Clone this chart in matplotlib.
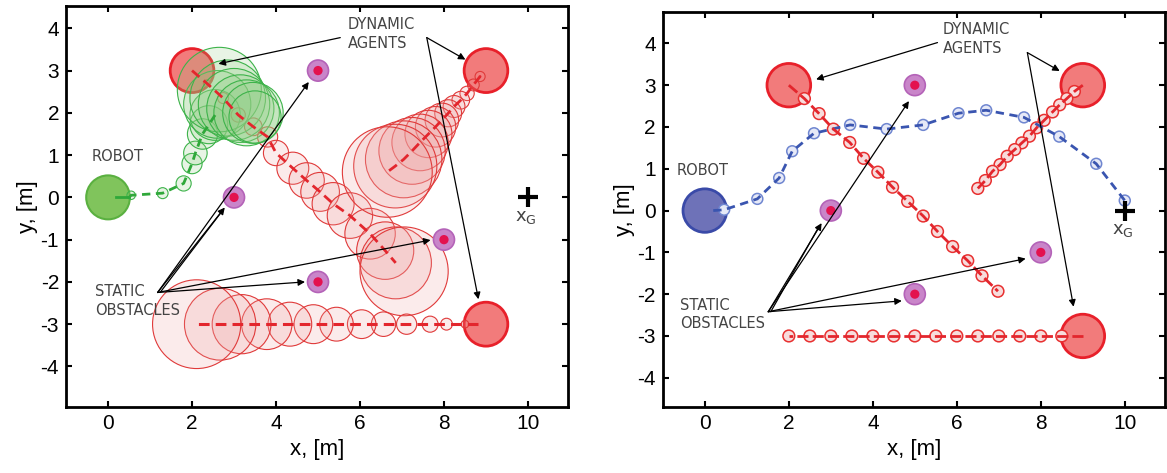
import numpy as np
import matplotlib.pyplot as plt
from matplotlib.patches import Circle

plt.rcParams['font.family'] = ['Liberation Sans', 'DejaVu Sans']
plt.rcParams['mathtext.default'] = 'regular'
plt.rcParams['axes.unicode_minus'] = False

# ---- common scene ----
static_x = [5, 3, 8, 5]
static_y = [3, 0, -1, -2]
agent_x = [2, 9, 9]
agent_y = [3, 3, -3]
goal = (10, 0)

# ---- left panel: growing uncertainty ----
green_x = [0.55, 1.3, 1.8, 2.0, 2.08, 2.25, 2.4, 2.55, 2.6, 2.65, 2.85, 3.0, 3.15, 3.3, 3.45, 3.5]
green_y = [0.05, 0.1, 0.33, 0.8, 1.05, 1.5, 1.72, 1.95, 2.2, 2.55, 2.35, 2.2, 2.1, 2.0, 2.0, 1.9]
green_r = [0.10, 0.13, 0.18, 0.24, 0.28, 0.36, 0.45, 0.6, 0.8, 1.0, 0.9, 0.85, 0.8, 0.78, 0.72, 0.62]

l_red1_x = [2.35, 2.74, 3.1, 3.46, 3.8, 4.0, 4.4, 4.73, 5.05, 5.36, 5.76, 6.24, 6.6, 6.85, 7.05]
l_red1_y = [2.7, 2.35, 1.95, 1.67, 1.43, 1.05, 0.69, 0.4, 0.13, -0.15, -0.43, -0.86, -1.26, -1.55, -1.75]
l_red1_r = [0.08, 0.13, 0.17, 0.21, 0.24, 0.3, 0.38, 0.42, 0.46, 0.5, 0.54, 0.6, 0.68, 0.85, 1.05]

l_red2_x = [8.86, 8.7, 8.55, 8.4, 8.24, 8.1, 7.95, 7.8, 7.63, 7.43, 7.24, 7.04, 6.84, 6.65]
l_red2_y = [2.86, 2.66, 2.46, 2.3, 2.15, 1.99, 1.83, 1.67, 1.5, 1.3, 1.1, 0.9, 0.74, 0.6]
l_red2_r = [0.12, 0.14, 0.17, 0.21, 0.26, 0.32, 0.4, 0.48, 0.56, 0.67, 0.79, 0.91, 0.99, 1.07]

l_red3_x = [8.5, 8.06, 7.67, 7.11, 6.56, 6.04, 5.44, 4.89, 4.33, 3.78, 3.18, 2.67, 2.11]
l_red3_y = [-3.0] * 13
l_red3_r = [0.09, 0.14, 0.19, 0.24, 0.29, 0.34, 0.4, 0.46, 0.52, 0.6, 0.7, 0.85, 1.05]

# ---- right panel: constant small uncertainty ----
blue_x = [0.46, 1.25, 1.77, 2.08, 2.6, 3.46, 4.33, 5.2, 6.04, 6.7, 7.6, 8.44, 9.32, 10.0]
blue_y = [0.02, 0.28, 0.78, 1.42, 1.85, 2.05, 1.95, 2.05, 2.33, 2.4, 2.23, 1.77, 1.12, 0.24]

r_red1_x = [2.37, 2.72, 3.06, 3.45, 3.78, 4.12, 4.47, 4.83, 5.2, 5.54, 5.9, 6.26, 6.6, 6.98]
r_red1_y = [2.68, 2.32, 1.95, 1.63, 1.25, 0.92, 0.56, 0.22, -0.13, -0.5, -0.86, -1.2, -1.56, -1.93]
r_red2_x = [8.8, 8.62, 8.45, 8.28, 8.08, 7.9, 7.73, 7.55, 7.38, 7.2, 7.03, 6.85, 6.68, 6.5]
r_red2_y = [2.85, 2.68, 2.53, 2.36, 2.16, 1.98, 1.78, 1.62, 1.46, 1.3, 1.1, 0.94, 0.72, 0.53]
r_red3_x = [8.5, 8.0, 7.5, 7.0, 6.5, 6.0, 5.5, 5.0, 4.5, 4.0, 3.5, 3.0, 2.5, 2.0]
r_red3_y = [-3.0] * 14

agent_face = '#f27b7b'
agent_edge = '#e8202a'
text_col = '#444444'


def draw_scene(ax):
    for x, y in zip(agent_x, agent_y):
        ax.add_patch(Circle((x, y), 0.52, fc=agent_face, ec=agent_edge, lw=2, zorder=2))
    for x, y in zip(static_x, static_y):
        ax.add_patch(Circle((x, y), 0.25, fc='#c985c9', ec='#b463b8', lw=1.2, zorder=6))
        ax.add_patch(Circle((x, y), 0.11, fc='#e3124f', ec='none', zorder=7))
    ax.plot(*goal, marker='+', ms=15, mew=3, color='black', zorder=8)
    ax.text(goal[0] - 0.05, goal[1] - 0.47, 'x$_{G}$', fontsize=13, color=text_col,
            ha='center', va='center', family='DejaVu Sans')


def arrow(ax, x0, y0, x1, y1, head=True):
    ax.annotate('', xy=(x1, y1), xytext=(x0, y0),
                arrowprops=dict(arrowstyle='-|>' if head else '-', lw=0.9, color='black',
                                mutation_scale=10, shrinkA=0, shrinkB=0), zorder=9)


def style(ax, ylim):
    ax.set_xlim(-1, 10.95)
    ax.set_ylim(*ylim)
    ax.set_xticks([0, 2, 4, 6, 8, 10])
    ax.set_yticks([-4, -3, -2, -1, 0, 1, 2, 3, 4])
    ax.tick_params(direction='in', length=4, width=1.5, top=True, right=True,
                   labelsize=15, pad=5)
    for s in ax.spines.values():
        s.set_linewidth(2)
    ax.set_xlabel('x, [m]', fontsize=16, labelpad=4)
    ax.set_ylabel('y, [m]', fontsize=16, labelpad=2)


fig = plt.figure(figsize=(11.67, 4.73), dpi=100)
ax1 = fig.add_axes([0.0566, 0.1395, 0.430, 0.848])
ax2 = fig.add_axes([0.568, 0.1395, 0.430, 0.835])

# ---------- left ----------
draw_scene(ax1)
ax1.add_patch(Circle((0, 0), 0.52, fc='#80c45c', ec='#5ab040', lw=1.5, zorder=2))
ax1.plot([0.2, 0.5], [0, 0], color='#2fa83a', lw=2, zorder=5)
for xs, ys, rs in [(l_red1_x, l_red1_y, l_red1_r), (l_red2_x, l_red2_y, l_red2_r),
                   (l_red3_x, l_red3_y, l_red3_r)]:
    for x, y, r in zip(xs, ys, rs):
        ax1.add_patch(Circle((x, y), r, fc=(0.93, 0.62, 0.62, 0.2), ec='#e03a3a', lw=0.8, zorder=3))
for x, y, r in zip(green_x, green_y, green_r):
    ax1.add_patch(Circle((x, y), r, fc=(0.55, 0.8, 0.5, 0.2), ec='#3db34a', lw=0.8, zorder=4))
ax1.plot([0.5] + green_x[:8], [0] + green_y[:8], color='#2fa83a', lw=2, dashes=(3, 2), zorder=5)
ax1.plot([2.0] + l_red1_x[:-1], [3.0] + l_red1_y[:-1], color='#e3262d', lw=2, dashes=(3.5, 2), zorder=5)
ax1.plot([8.85] + l_red2_x, [2.85] + l_red2_y, color='#e3262d', lw=2, dashes=(3.5, 2), zorder=5)
ax1.plot([8.8, 2.1], [-3, -3], color='#e3262d', lw=2.2, dashes=(3.5, 2), zorder=5)

ax1.text(-0.4, 0.96, 'ROBOT', fontsize=10.5, color=text_col, va='center', family='DejaVu Sans')
ax1.text(5.7, 3.87, 'DYNAMIC\nAGENTS', fontsize=10.5, color=text_col, va='center',
         family='DejaVu Sans', linespacing=1.3)
ax1.text(-0.3, -2.45, 'STATIC\nOBSTACLES', fontsize=10.5, color=text_col, va='center',
         family='DejaVu Sans', linespacing=1.3)
arrow(ax1, 5.53, 3.78, 2.63, 3.16)
arrow(ax1, 7.59, 3.78, 8.51, 3.26)
arrow(ax1, 7.59, 3.78, 8.82, -2.41)
arrow(ax1, 1.18, -2.25, 4.78, 2.73)
arrow(ax1, 1.18, -2.25, 2.78, -0.24)
arrow(ax1, 1.24, -2.25, 2.72, -0.32, head=False)
arrow(ax1, 1.18, -2.25, 7.68, -1.01)
arrow(ax1, 1.18, -2.25, 4.69, -2.0)
style(ax1, (-4.96, 4.53))

# ---------- right ----------
draw_scene(ax2)
ax2.add_patch(Circle((0, 0), 0.52, fc='#6e72b8', ec='#3a4aa8', lw=2, zorder=2))
ax2.plot([0.2] + blue_x, [0] + blue_y, color='#3a55b0', lw=2, dashes=(3, 2), zorder=5)
for x, y in zip(blue_x, blue_y):
    ax2.add_patch(Circle((x, y), 0.13, fc='#e6e9f7', ec='#6f86d0', lw=1.1, zorder=4))
for xs, ys, x0, y0 in [(r_red1_x, r_red1_y, 2.0, 3.0), (r_red2_x, r_red2_y, 9.0, 3.0),
                       (r_red3_x, r_red3_y, 9.0, -3.0)]:
    ax2.plot([x0] + xs, [y0] + ys, color='#e3262d', lw=2, dashes=(4, 1.5), zorder=5)
    for x, y in zip(xs, ys):
        ax2.add_patch(Circle((x, y), 0.14, fc='#f7dcdc', ec='#e83030', lw=1.1, zorder=4))

ax2.text(-0.67, 0.96, 'ROBOT', fontsize=10.5, color=text_col, va='center', family='DejaVu Sans')
ax2.text(5.67, 4.1, 'DYNAMIC\nAGENTS', fontsize=10.5, color=text_col, va='center',
         family='DejaVu Sans', linespacing=1.3)
ax2.text(-0.59, -2.49, 'STATIC\nOBSTACLES', fontsize=10.5, color=text_col, va='center',
         family='DejaVu Sans', linespacing=1.3)
arrow(ax2, 5.54, 4.02, 2.65, 3.14)
arrow(ax2, 7.68, 3.78, 8.45, 3.34)
arrow(ax2, 7.68, 3.78, 8.78, -2.3)
arrow(ax2, 1.51, -2.42, 4.86, 2.62)
arrow(ax2, 1.51, -2.42, 2.78, -0.3)
arrow(ax2, 1.57, -2.42, 2.72, -0.38, head=False)
arrow(ax2, 1.51, -2.42, 7.64, -1.15)
arrow(ax2, 1.51, -2.42, 4.69, -2.16)
style(ax2, (-4.7, 4.75))

fig.savefig('out.png', dpi=100)
